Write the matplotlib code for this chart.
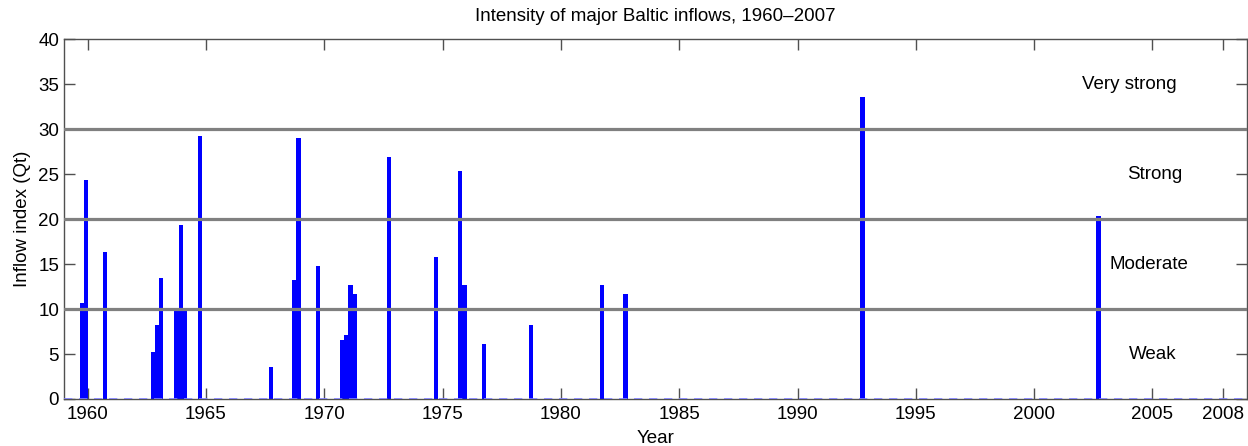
import numpy as np
import matplotlib
matplotlib.use("Agg")
import matplotlib.pyplot as plt

plt.rcParams['font.family'] = ['Liberation Sans', 'DejaVu Sans']

# inflow events: time (fractional year) and intensity index Qt
event_time = [1959.75, 1959.94, 1960.74, 1962.75, 1962.93, 1963.11, 1963.75, 1963.93,
              1964.12, 1964.75, 1967.74, 1968.73, 1968.91, 1969.72, 1970.76, 1970.93,
              1971.11, 1971.29, 1972.73, 1974.73, 1975.73, 1975.92, 1976.75, 1978.74,
              1981.73, 1982.73, 1992.74, 2002.72]
event_qt = [10.7, 24.4, 16.3, 5.2, 8.2, 13.5, 9.9, 19.3,
            9.8, 29.2, 3.6, 13.2, 29.0, 14.8, 6.6, 7.1,
            12.7, 11.7, 26.9, 15.8, 25.4, 12.7, 6.1, 8.2,
            12.7, 11.7, 33.6, 20.3]

# class limits and labels
class_limits = [10, 20, 30]
class_names = ["Weak", "Moderate", "Strong", "Very strong"]
class_label_y = [5, 15, 25, 35]
class_label_x = [2005.0, 2004.85, 2005.1, 2004.0]

xticks = [1960, 1965, 1970, 1975, 1980, 1985, 1990, 1995, 2000, 2005, 2008]
yticks = [0, 5, 10, 15, 20, 25, 30, 35, 40]

fs = 13.5

fig = plt.figure(figsize=(12.48, 4.46), dpi=100)
ax = fig.add_axes([0.0513, 0.1054, 0.948, 0.8066])

ax.bar(event_time, event_qt, width=0.18, color='#0000ff', edgecolor='none', zorder=2)

# zero-height bar edges along the baseline (MATLAB look)
ax.axhline(0, color='#7f7fff', lw=1.2, dashes=(5, 4), zorder=3)

for lim in class_limits:
    ax.axhline(lim, color='#808080', lw=2.3, zorder=4)

for name, xx, yy in zip(class_names, class_label_x, class_label_y):
    ax.text(xx, yy, name, ha='center', va='center', fontsize=fs)

ax.set_xlim(1959, 2009)
ax.set_ylim(0, 40)
ax.set_xticks(xticks)
ax.set_yticks(yticks)
ax.tick_params(direction='in', length=8, width=1, color='#505050',
               top=True, right=True, labelsize=fs)
ax.tick_params(axis='x', pad=5)
for sp in ax.spines.values():
    sp.set_color('#505050')
    sp.set_linewidth(1.0)

ax.set_title("Intensity of major Baltic inflows, 1960\u20132007", fontsize=fs, pad=13)
ax.set_xlabel("Year", fontsize=fs, labelpad=5)
ax.set_ylabel("Inflow index (Qt)", fontsize=fs, labelpad=5)

fig.savefig("out.png", dpi=100)
